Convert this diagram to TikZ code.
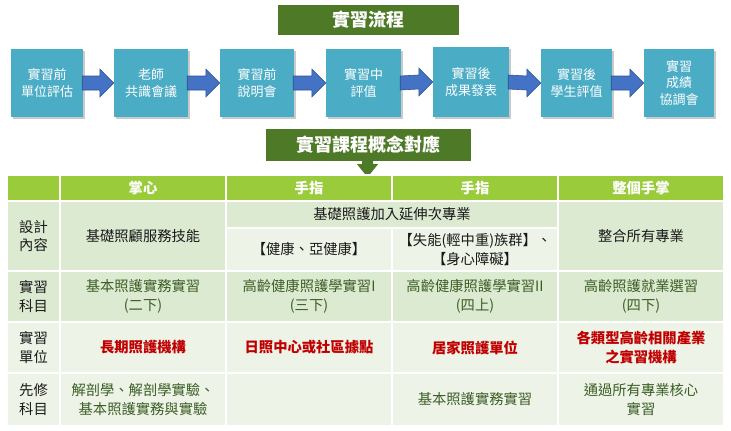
\documentclass[tikz,border=0pt]{standalone}
\usepackage{fontspec}
\newfontfamily\cjk{Noto Sans CJK TC}
\usetikzlibrary{calc,shadows}
\definecolor{flowblue}{HTML}{4BACC6}
\definecolor{arrblue}{HTML}{4472C4}
\definecolor{arrborder}{HTML}{2F528F}
\definecolor{titlegreen}{HTML}{4E7A28}
\definecolor{headgreen}{HTML}{9ACB3A}
\definecolor{rowdark}{HTML}{DDEAD2}
\definecolor{rowlight}{HTML}{EDF3E7}
\definecolor{txtgreen}{HTML}{3B5E25}
\definecolor{txtred}{HTML}{C00000}
\tikzset{
  flowbox/.style={fill=flowblue, text=white, minimum height=68pt, inner sep=0pt, align=center,
    font=\cjk\fontsize{13}{16.5}\selectfont,
    drop shadow={shadow xshift=2pt, shadow yshift=-2pt, opacity=0.35, fill=black!60}},
  flowarrow/.style={fill=arrblue, draw=arrborder, line width=0.6pt, line join=miter},
  titlebox/.style={fill=titlegreen, text=white, inner sep=0pt, align=center,
    font=\cjk\bfseries\fontsize{18}{20}\selectfont},
  cell/.style={draw=white, line width=2pt, inner sep=0pt, outer sep=0pt, align=center,
    font=\cjk\fontsize{14.3}{18.5}\selectfont},
  headtxt/.style={text=white, font=\cjk\bfseries\fontsize{14.3}{18.5}\selectfont},
  greentxt/.style={text=txtgreen},
  redtxt/.style={text=txtred, font=\cjk\bfseries\fontsize{14.3}{18.5}\selectfont},
  blacktxt/.style={text=black!90},
}
\newcommand\tcell[7]{\node[cell,fill=#6,minimum width={(#4-#2)*1pt},minimum height={(#5-#3)*1pt},#7] (#1) at ({(#2+#4)/2},{(#3+#5)/2})}
\newcommand\flowarr[2]{\draw[flowarrow] ($(#1.east)+(-1,-7)$) -- ($(#2.west)+(-14,-7)$) -- ($(#2.west)+(-14,-14)$) -- (#2.west) -- ($(#2.west)+(-14,14)$) -- ($(#2.west)+(-14,7)$) -- ($(#1.east)+(-1,7)$) -- cycle;}
\begin{document}
\begin{tikzpicture}[x=1pt,y=-1pt]
\useasboundingbox (0,0) rectangle (731,431);
% title 1
\node[titlebox, minimum width=181pt, minimum height=30pt] (t1) at (368.5,20) {實習流程};
% flow boxes
\node[flowbox, minimum width=72pt] (b1) at (47,83) {實習前\\單位評估};
\node[flowbox, minimum width=74pt] (b2) at (151,83) {老師\\共識會議};
\node[flowbox, minimum width=74pt] (b3) at (257,83) {實習前\\說明會};
\node[flowbox, minimum width=75pt] (b4) at (363.5,83) {實習中\\評值};
\node[flowbox, minimum width=76pt, minimum height=70pt] (b5) at (471,82) {實習後\\成果發表};
\node[flowbox, minimum width=71pt] (b6) at (576.5,83) {實習後\\學生評值};
\node[flowbox, minimum width=70pt] (b7) at (679,83) {實習\\成績\\協調會};
\flowarr{b1}{b2}
\flowarr{b2}{b3}
\flowarr{b3}{b4}
\flowarr{b4}{b5}
\flowarr{b5}{b6}
\flowarr{b6}{b7}
% title 2
\node[titlebox, minimum width=205pt, minimum height=32pt] (t2) at (368.5,145) {實習課程概念對應};
\coordinate (dtip) at ($(t2.south)+(-1,16)$);
\fill[titlegreen] ($(t2.south)+(-6.5,-1)$) -- ($(t2.south)+(-6.5,3)$) -- ($(t2.south)+(-11.5,3)$) -- (dtip) -- ($(t2.south)+(9.5,3)$) -- ($(t2.south)+(4.5,3)$) -- ($(t2.south)+(4.5,-1)$) -- cycle;
% header row
\tcell{h0}{7}{175}{60}{201}{headgreen}{headtxt}{};
\tcell{h1}{60}{175}{226}{201}{headgreen}{headtxt}{掌心};
\tcell{h2}{226}{175}{392}{201}{headgreen}{headtxt}{手指};
\tcell{h3}{392}{175}{558}{201}{headgreen}{headtxt}{手指};
\tcell{h4}{558}{175}{724}{201}{headgreen}{headtxt}{整個手掌};
% row 1
\tcell{r1c0}{7}{201}{60}{271}{rowdark}{blacktxt}{設計\\內容};
\tcell{r1c1}{60}{201}{226}{271}{rowdark}{blacktxt}{基礎照顧服務技能};
\tcell{r1c23}{226}{201}{558}{228}{rowdark}{blacktxt}{基礎照護加入延伸次專業};
\tcell{r1c2}{226}{228}{392}{271}{rowlight}{blacktxt}{【健康、亞健康】};
\tcell{r1c3}{392}{228}{558}{271}{rowlight}{blacktxt}{【失能(輕中重)族群】、\\【身心障礙】};
\tcell{r1c4}{558}{201}{724}{271}{rowdark}{blacktxt}{整合所有專業};
% row 2
\tcell{r2c0}{7}{271}{60}{322}{rowdark}{blacktxt}{實習\\科目};
\tcell{r2c1}{60}{271}{226}{322}{rowdark}{greentxt}{基本照護實務實習\\(二下)};
\tcell{r2c2}{226}{271}{392}{322}{rowdark}{greentxt}{高齡健康照護學實習I\\(三下)};
\tcell{r2c3}{392}{271}{558}{322}{rowdark}{greentxt}{高齡健康照護學實習II\\(四上)};
\tcell{r2c4}{558}{271}{724}{322}{rowdark}{greentxt}{高齡照護就業選習\\(四下)};
% row 3
\tcell{r3c0}{7}{322}{60}{373}{rowlight}{blacktxt}{實習\\單位};
\tcell{r3c1}{60}{322}{226}{373}{rowlight}{redtxt}{長期照護機構};
\tcell{r3c2}{226}{322}{392}{373}{rowlight}{redtxt}{日照中心或社區據點};
\tcell{r3c3}{392}{322}{558}{373}{rowlight}{redtxt}{居家照護單位};
\tcell{r3c4}{558}{322}{724}{373}{rowlight}{redtxt}{各類型高齡相關產業\\之實習機構};
% row 4
\tcell{r4c0}{7}{373}{60}{426}{rowlight}{blacktxt}{先修\\科目};
\tcell{r4c1}{60}{373}{226}{426}{rowlight}{greentxt}{解剖學、解剖學實驗、\\基本照護實務與實驗};
\tcell{r4c2}{226}{373}{392}{426}{rowlight}{greentxt}{};
\tcell{r4c3}{392}{373}{558}{426}{rowlight}{greentxt}{基本照護實務實習};
\tcell{r4c4}{558}{373}{724}{426}{rowlight}{greentxt}{通過所有專業核心\\實習};
\end{tikzpicture}
\end{document}
